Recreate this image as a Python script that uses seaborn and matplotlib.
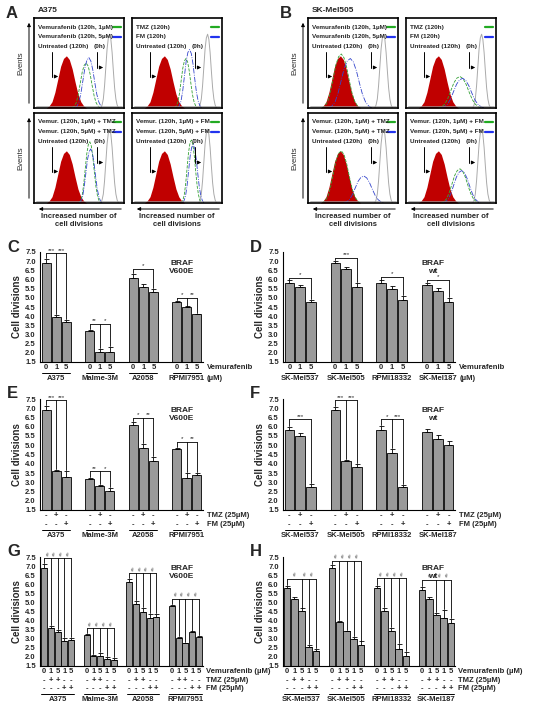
import numpy as np
import pandas as pd
import matplotlib
matplotlib.use("Agg")
import matplotlib.pyplot as plt
import seaborn as sns

sns.set_style("white")
plt.rcParams['font.family'] = ['Liberation Sans', 'DejaVu Sans']

# ---------------- data ----------------
groups_v600e = ["A375", "Malme-3M", "A2058", "RPMI7951"]
groups_wt = ["SK-Mel537", "SK-Mel505", "RPMI18332", "SK-Mel187"]

C_vals = [[6.9, 3.95, 3.7], [3.2, 2.05, 2.05], [6.1, 5.6, 5.3], [4.8, 4.5, 4.1]]
C_err = [[0.2, 0.12, 0.1], [0.04, 0.15, 0.25], [0.18, 0.15, 0.18], [0.05, 0.03, 0.02]]
D_vals = [[5.8, 5.6, 4.8], [6.9, 6.6, 5.6], [5.8, 5.5, 4.9], [5.7, 5.4, 4.8]]
D_err = [[0.15, 0.12, 0.1], [0.12, 0.1, 0.2], [0.15, 0.15, 0.2], [0.12, 0.15, 0.2]]
E_vals = [[6.9, 3.6, 3.3], [3.2, 2.8, 2.55], [6.1, 4.85, 4.15], [4.8, 3.25, 3.4]]
E_err = [[0.2, 0.08, 0.3], [0.04, 0.05, 0.15], [0.18, 0.2, 0.2], [0.05, 0.25, 0.1]]
F_vals = [[5.8, 5.5, 2.75], [6.9, 4.15, 3.8], [5.8, 4.6, 2.75], [5.7, 5.35, 5.0]]
F_err = [[0.2, 0.18, 0.15], [0.15, 0.05, 0.2], [0.22, 0.18, 0.12], [0.18, 0.2, 0.25]]
G_vals = [[6.9, 3.6, 3.35, 2.9, 2.95], [3.2, 2.05, 2.05, 1.9, 1.85],
          [6.1, 4.9, 4.5, 4.15, 4.2], [4.8, 3.05, 2.75, 3.35, 3.1]]
G_err = [[0.2, 0.1, 0.15, 0.15, 0.1], [0.04, 0.08, 0.18, 0.1, 0.1],
         [0.18, 0.18, 0.18, 0.2, 0.18], [0.05, 0.04, 0.03, 0.05, 0.05]]
H_vals = [[5.8, 5.2, 4.55, 2.55, 2.3], [6.9, 3.9, 3.4, 3.0, 2.65],
          [5.8, 4.55, 3.4, 2.45, 2.05], [5.7, 5.2, 4.3, 4.15, 3.85]]
H_err = [[0.12, 0.12, 0.12, 0.12, 0.12], [0.15, 0.08, 0.05, 0.12, 0.2],
         [0.12, 0.15, 0.2, 0.25, 0.2], [0.15, 0.12, 0.12, 0.45, 0.25]]

# brackets: (height, [(bar index, label), ...]) per group
C_sig = [(7.45, [(1, '***'), (2, '***')]), (3.6, [(1, '**'), (2, '*')]),
         (6.6, [(2, '*')]), (5.0, [(1, '*'), (2, '**')])]
D_sig = [(6.1, [(2, '*')]), (7.2, [(2, '***')]), (6.15, [(2, '*')]), (6.0, [(2, '*')])]
E_sig = [(7.45, [(1, '***'), (2, '***')]), (3.6, [(1, '**'), (2, '*')]),
         (6.5, [(1, '*'), (2, '**')]), (5.2, [(1, '*'), (2, '**')])]
F_sig = [(6.4, [(2, '***')]), (7.45, [(1, '***'), (2, '***')]),
         (6.4, [(1, '*'), (2, '***')]), None]
G_sig = [(7.45, [(1, '#'), (2, '#'), (3, '#'), (4, '#')]), (3.6, [(1, '#'), (2, '#'), (3, '#'), (4, '#')]),
         (6.6, [(1, '#'), (2, '#'), (3, '#'), (4, '#')]), (5.2, [(1, '#'), (2, '#'), (3, '#'), (4, '#')])]
H_sig = [(6.3, [(2, '#'), (3, '#'), (4, '#')]), (7.3, [(1, '#'), (2, '#'), (3, '#'), (4, '#')]),
         (6.35, [(1, '#'), (2, '#'), (3, '#'), (4, '#')]), (6.25, [(2, '#'), (3, '#'), (4, '#')])]

vem_3 = ["0", "1", "5"]
tmz_3 = ["-", "+", "-"]
fm_3 = ["-", "-", "+"]
vem_5 = ["0", "1", "5", "1", "5"]
tmz_5 = ["-", "+", "+", "-", "-"]
fm_5 = ["-", "-", "-", "+", "+"]

yticks = [1.5, 2.0, 2.5, 3.0, 3.5, 4.0, 4.5, 5.0, 5.5, 6.0, 6.5, 7.0, 7.5]

# histogram curve data
peak_off = [-0.14, -0.12, -0.10, -0.08, -0.06, -0.04, -0.02, 0.0, 0.02, 0.04, 0.06, 0.08, 0.10, 0.12, 0.14]
peak_shape = [0, 0.04, 0.12, 0.3, 0.55, 0.8, 0.95, 1.0, 0.93, 0.75, 0.5, 0.27, 0.12, 0.04, 0]
red_peak = (0.36, 0.58, 1.6)      # centre, height, width factor
grey_peak = (0.84, 0.82, 0.7)
hist_A = [
    (["Vemurafenib (120h, 1µM)", "Vemurafenib (120h, 5µM)"], (0.58, 0.5, 1.1), (0.61, 0.56, 1.1)),
    (["TMZ (120h)", "FM (120h)"], (0.6, 0.55, 0.9), (0.64, 0.65, 0.95)),
    (["Vemur. (120h, 1µM) + TMZ", "Vemur. (120h, 5µM) + TMZ"], (0.62, 0.68, 0.85), (0.63, 0.6, 0.9)),
    (["Vemur. (120h, 1µM) + FM", "Vemur. (120h, 5µM) + FM"], (0.66, 0.7, 0.8), (0.68, 0.65, 0.85)),
]
hist_B = [
    (["Vemurafenib (120h, 1µM)", "Vemurafenib (120h, 5µM)"], (0.37, 0.6, 1.5), (0.47, 0.55, 1.7)),
    (["TMZ (120h)", "FM (120h)"], (0.6, 0.35, 1.7), (0.63, 0.33, 1.7)),
    (["Vemur. (120h, 1µM) + TMZ", "Vemur. (120h, 5µM) + TMZ"], (0.37, 0.58, 1.5), (0.62, 0.3, 1.6)),
    (["Vemur. (120h, 1µM) + FM", "Vemur. (120h, 5µM) + FM"], (0.6, 0.38, 1.5), (0.62, 0.36, 1.5)),
]

# ---------------- figure ----------------
W, H = 550, 714
fig = plt.figure(figsize=(5.5, 7.14), dpi=100)


def ax_px(l, t, w, h):
    return fig.add_axes([l / W, 1 - (t + h) / H, w / W, h / H])


def ftext(x, y, s, **kw):
    fig.text(x / W, 1 - y / H, s, **kw)


def curve(p):
    c, h, wf = p
    return [c + o * wf for o in peak_off], [v * h for v in peak_shape]


def hist_box(l, t, info):
    ax = ax_px(l, t, 90, 90)
    labels, g, b = info
    ax.set_xlim(0, 1)
    ax.set_ylim(0, 1)
    ax.set_xticks([])
    ax.set_yticks([])
    for s in ax.spines.values():
        s.set_linewidth(1.2)
        s.set_color('black')
    rx, ry = curve(red_peak)
    ax.fill_between(rx, ry, color='#c00000', lw=0)
    gx, gy = curve(grey_peak)
    ax.plot(gx, gy, color='#aaaaaa', lw=0.7)
    x1, y1 = curve(g)
    ax.plot(x1, y1, color='#33a033', lw=0.6, ls='--')
    x2, y2 = curve(b)
    ax.plot(x2, y2, color='#3344cc', lw=0.6, ls='-.')
    ax.plot([0.02, 0.98], [0.02, 0.02], color='#999999', lw=0.5)
    fs = 4.6
    ax.text(0.04, 0.9, labels[0], fontsize=fs, fontweight='bold', va='center')
    ax.text(0.04, 0.79, labels[1], fontsize=fs, fontweight='bold', va='center')
    ax.plot([0.88, 0.97], [0.9, 0.9], color='#22aa22', lw=1.6)
    ax.plot([0.88, 0.97], [0.79, 0.79], color='#2233ee', lw=1.6)
    ax.text(0.04, 0.68, "Untreated (120h)", fontsize=fs, fontweight='bold', va='center')
    ax.text(0.66, 0.68, "(0h)", fontsize=fs, fontweight='bold', va='center')
    ax.plot([0.2, 0.2], [0.62, 0.35], color='black', lw=0.7)
    ax.annotate("", xy=(0.3, 0.35), xytext=(0.2, 0.35),
                arrowprops=dict(arrowstyle='-|>', lw=0.7, color='black', mutation_scale=5))
    ax.plot([0.7, 0.7], [0.62, 0.45], color='black', lw=0.7)
    ax.annotate("", xy=(0.8, 0.45), xytext=(0.7, 0.45),
                arrowprops=dict(arrowstyle='-|>', lw=0.7, color='black', mutation_scale=5))
    return ax


for (x0, label, name, hist) in [(34, "A", "A375", hist_A), (308, "B", "SK-Mel505", hist_B)]:
    ftext(x0 - 28, 14, label, fontsize=12, fontweight='bold', va='center')
    ftext(x0 + 4, 11, name, fontsize=6, fontweight='bold', va='center')
    lefts = [x0, x0 + 98]
    tops = [18, 113]
    k = 0
    for t in tops:
        for l in lefts:
            hist_box(l, t, hist[k])
            k += 1
    for t in tops:
        fig.add_artist(matplotlib.patches.FancyArrowPatch(
            ((x0 - 5) / W, 1 - (t + 88) / H), ((x0 - 5) / W, 1 - (t + 2) / H),
            arrowstyle='-|>', mutation_scale=5, lw=0.7, color='black', transform=fig.transFigure))
        ftext(x0 - 13, t + 45, "Events", fontsize=5.5, rotation=90, ha='center', va='center')
    for l in lefts:
        fig.add_artist(matplotlib.patches.FancyArrowPatch(
            ((l + 90) / W, 1 - 209 / H), ((l + 2) / W, 1 - 209 / H),
            arrowstyle='-|>', mutation_scale=5, lw=0.7, color='black', transform=fig.transFigure))
        ftext(l + 45, 220, "Increased number of\ncell divisions", fontsize=5.5, fontweight='bold',
              ha='center', va='center', linespacing=1.2)


def bar_panel(l, t, w, h, vals, errs, sigs, groups, rows, right_labels, letter, braf):
    ax = ax_px(l, t, w, h)
    n = len(vals[0])
    step = n + 1.3
    pos, v = [], []
    for gi, gv in enumerate(vals):
        for bi, val in enumerate(gv):
            pos.append(gi * step + bi)
            v.append(val)
    df = pd.DataFrame({"pos": pos, "val": v})
    sns.barplot(data=df, x="pos", y="val", native_scale=True, color="#9a9a9a",
                edgecolor="black", linewidth=0.6, width=0.9, ax=ax, errorbar=None)
    e = [x for ge in errs for x in ge]
    ax.errorbar(pos, v, yerr=[[0] * len(e), e], fmt='none', ecolor='black', elinewidth=0.6,
                capsize=1.8, capthick=0.6)
    ax.set_xlim(-0.6, pos[-1] + 0.6)
    ax.set_ylim(1.5, 7.5)
    ax.set_yticks(yticks)
    ax.set_yticklabels(["%.1f" % y for y in yticks], fontsize=5.5, fontweight='bold')
    ax.set_xticks([])
    ax.set_xlabel("")
    ax.set_ylabel("Cell divisions", fontsize=7, fontweight='bold', labelpad=2)
    ax.tick_params(axis='y', length=2, width=0.6, pad=1)
    for s in ['top', 'right']:
        ax.spines[s].set_visible(False)
    for s in ['left', 'bottom']:
        ax.spines[s].set_linewidth(0.8)
        ax.spines[s].set_color('black')
    # brackets
    for gi, sg in enumerate(sigs):
        if sg is None:
            continue
        hgt, marks = sg
        x0 = gi * step
        top0 = vals[gi][0] + errs[gi][0] + 0.05
        ax.plot([x0, x0], [top0, hgt], color='black', lw=0.6)
        lastx = x0 + marks[-1][0]
        ax.plot([x0, lastx], [hgt, hgt], color='black', lw=0.6)
        prev = x0
        for bi, lab in marks:
            xb = x0 + bi
            tb = vals[gi][bi] + errs[gi][bi] + 0.05
            ax.plot([xb, xb], [tb, hgt], color='black', lw=0.6)
            ax.text((prev + xb) / 2, hgt + 0.02, lab, fontsize=4.5 if lab != '#' else 3.5,
                    ha='center', va='bottom', rotation=0 if lab != '#' else 20)
            prev = xb
    tr = ax.get_xaxis_transform()
    dy = 8.5 / h
    for gi, g in enumerate(groups):
        x0 = gi * step
        for ri, row in enumerate(rows):
            for bi, s in enumerate(row):
                ax.text(x0 + bi, -0.02 - ri * dy, s, transform=tr, fontsize=5.5, fontweight='bold',
                        ha='center', va='top', clip_on=False)
        yl = -0.02 - len(rows) * dy - 0.004
        ax.plot([x0 - 0.4, x0 + n - 0.6], [yl, yl], transform=tr, color='black', lw=0.7, clip_on=False)
        ax.text(x0 + (n - 1) / 2, yl - 0.02, g, transform=tr, fontsize=5.5, fontweight='bold',
                ha='center', va='top', clip_on=False)
    xr = pos[-1] + 1.0
    for ri, s in enumerate(right_labels):
        if len(right_labels) == len(rows):
            yy = -0.02 - ri * dy
        else:
            yy = -0.02 if ri == 0 else -0.02 - len(rows) * dy - 0.024
        ax.text(xr, yy, s, transform=tr, fontsize=5.5, fontweight='bold', ha='left', va='top', clip_on=False)
    ax.text(0.87, 0.93, braf, transform=ax.transAxes, fontsize=6, fontweight='bold',
            ha='center', va='top', linespacing=1.3)
    ftext(l - 33, t - 5, letter, fontsize=12, fontweight='bold', va='center')
    return ax


LW, RW = 163, 172
bar_panel(40, 252, LW, 110, C_vals, C_err, C_sig, groups_v600e, [vem_3],
          ["Vemurafenib", "(µM)"], "C", "BRAF\nV600E")
bar_panel(283, 252, RW, 110, D_vals, D_err, D_sig, groups_wt, [vem_3],
          ["Vemurafenib", "(µM)"], "D", "BRAF\nwt")
bar_panel(40, 399, LW, 111, E_vals, E_err, E_sig, groups_v600e, [tmz_3, fm_3],
          ["TMZ (25µM)", "FM (25µM)"], "E", "BRAF\nV600E")
bar_panel(283, 399, RW, 111, F_vals, F_err, F_sig, groups_wt, [tmz_3, fm_3],
          ["TMZ (25µM)", "FM (25µM)"], "F", "BRAF\nwt")
bar_panel(40, 557, LW, 109, G_vals, G_err, G_sig, groups_v600e, [vem_5, tmz_5, fm_5],
          ["Vemurafenib (µM)", "TMZ (25µM)", "FM (25µM)"], "G", "BRAF\nV600E")
bar_panel(283, 557, RW, 109, H_vals, H_err, H_sig, groups_wt, [vem_5, tmz_5, fm_5],
          ["Vemurafenib (µM)", "TMZ (25µM)", "FM (25µM)"], "H", "BRAF\nwt")

fig.savefig("out.png", dpi=100)
